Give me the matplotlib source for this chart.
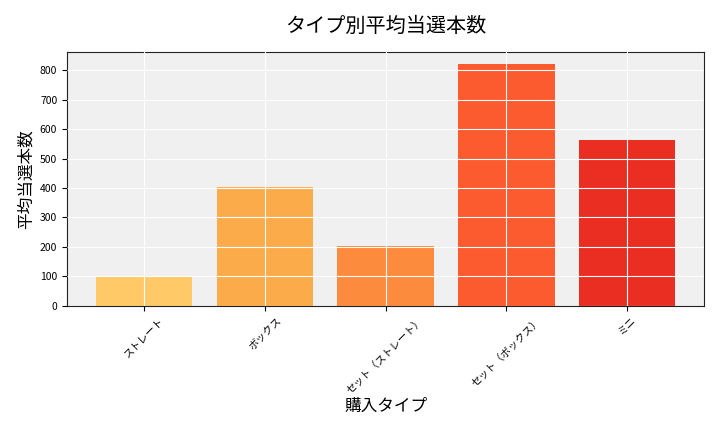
import matplotlib
matplotlib.use('Agg')
import matplotlib.pyplot as plt

plt.rcParams['font.family'] = ['Noto Sans CJK JP', 'DejaVu Sans']

types = ['ストレート', 'ボックス', 'セット（ストレート）', 'セット（ボックス）', 'ミニ']
avg_wins = [98, 404, 203, 820, 563]
colors = ['#FEC966', '#FCAB4A', '#FD8B3E', '#FC5A2F', '#EB2E22']

fig, ax = plt.subplots(figsize=(7.2, 4.32), dpi=100)
ax.set_facecolor('#F0F0F0')
ax.bar(types, avg_wins, color=colors, width=0.8, zorder=2)
ax.grid(True, color='white', linewidth=0.8, zorder=3)
ax.set_axisbelow(False)
ax.set_ylim(0, 862)
ax.set_title('タイプ別平均当選本数', fontsize=14.5, pad=14)
ax.set_xlabel('購入タイプ', fontsize=12, labelpad=1)
ax.set_ylabel('平均当選本数', fontsize=12)
ax.tick_params(axis='x', labelsize=7.5, rotation=45)
ax.tick_params(axis='y', labelsize=7.5)
for s in ax.spines.values():
    s.set_color('#222222')
plt.subplots_adjust(left=0.093, right=0.978, top=0.88, bottom=0.292)
plt.savefig('out.png', dpi=100)
